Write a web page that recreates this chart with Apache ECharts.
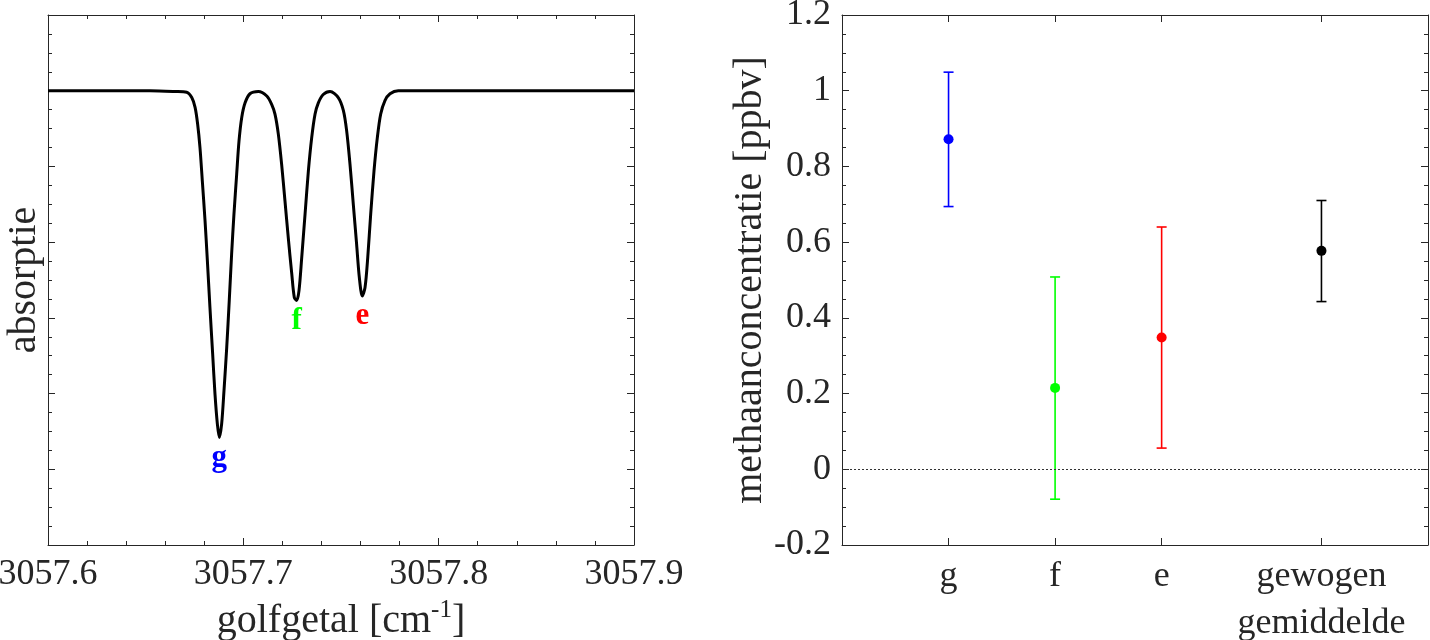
<!DOCTYPE html>
<html>
<head>
<meta charset="utf-8">
<script src="https://cdn.jsdelivr.net/npm/echarts@6.0.0/dist/echarts.min.js"></script>
<style>
  html, body { margin: 0; padding: 0; background: #fff; }
  #chart { width: 1430px; height: 640px; }
</style>
</head>
<body>
<div id="chart"></div>
<script>
var golfgetal = [3057.6, 3057.6522, 3057.665, 3057.671, 3057.6736, 3057.6753, 3057.6766, 3057.6778, 3057.679, 3057.6804,
  3057.6816, 3057.6829, 3057.6843, 3057.6855, 3057.6867, 3057.6877, 3057.6889, 3057.6901, 3057.6915, 3057.6928,
  3057.694, 3057.6952, 3057.6966, 3057.6978, 3057.6992, 3057.7009, 3057.7034, 3057.7077, 3057.712, 3057.7145,
  3057.7162, 3057.7179, 3057.7196, 3057.7213, 3057.723, 3057.7248, 3057.7261, 3057.7273, 3057.7285, 3057.7299,
  3057.7316, 3057.7333, 3057.735, 3057.7367, 3057.7384, 3057.7409, 3057.7444, 3057.7486, 3057.7512, 3057.7529,
  3057.7546, 3057.7563, 3057.758, 3057.7594, 3057.7609, 3057.7623, 3057.7637, 3057.7652, 3057.7669, 3057.7686,
  3057.7703, 3057.7725, 3057.7751, 3057.7793, 3057.7853, 3057.9];
var absorptie = [0, 0, -0.01, -0.02, -0.09, -0.22, -0.44, -0.75, -1.19, -1.72,
  -2.25, -2.86, -3.48, -4.01, -4.40, -4.58, -4.40, -3.96, -3.39, -2.77,
  -2.16, -1.63, -1.10, -0.66, -0.35, -0.16, -0.04, -0.01, -0.07, -0.18,
  -0.31, -0.57, -0.97, -1.45, -1.94, -2.42, -2.73, -2.77, -2.64, -2.20,
  -1.63, -1.06, -0.62, -0.31, -0.16, -0.05, -0.01, -0.09, -0.26, -0.53,
  -0.97, -1.50, -2.03, -2.47, -2.71, -2.60, -2.20, -1.63, -1.06, -0.62,
  -0.31, -0.13, -0.04, 0, 0, 0];

// lijnnamen bij de minima
var lijnNaam = ['g', 'f', 'e'];
var lijnX = [3057.6877, 3057.7273, 3057.7609];
var lijnY = [-4.58, -2.77, -2.71];
var lijnKleur = ['#0000ff', '#00ff00', '#ff0000'];

// rechter paneel: methaanconcentratie met foutmarges
var categorie = ['g', 'f', 'e', 'gewogen\ngemiddelde'];
var categoriePos = [1, 2, 3, 4.5];
var concentratie = [0.872, 0.215, 0.348, 0.577];
var foutOnder = [0.694, -0.079, 0.056, 0.443];
var foutBoven = [1.049, 0.508, 0.640, 0.710];
var puntKleur = ['#0000ff', '#00ff00', '#ff0000', '#000000'];

var font = 'Liberation Serif';
var asKleur = '#262626';

var chart = echarts.init(document.getElementById('chart'));

function randAs(extra) {
  var base = {
    axisLine: { show: true, onZero: false, lineStyle: { color: asKleur, width: 1 } },
    axisTick: { show: true, inside: true, length: 7, lineStyle: { color: asKleur } },
    minorTick: { show: false },
    splitLine: { show: false },
    axisLabel: { show: false }
  };
  return Object.assign(base, extra);
}

var spectrum = [];
for (var i = 0; i < golfgetal.length; i++) spectrum.push([golfgetal[i], absorptie[i]]);

var lijnLabels = lijnNaam.map(function (n, i) {
  return {
    value: [lijnX[i], lijnY[i]],
    label: { formatter: n, color: lijnKleur[i] }
  };
});

var punten = categoriePos.map(function (x, i) { return [x, concentratie[i]]; });
var fouten = categoriePos.map(function (x, i) { return [x, foutOnder[i], foutBoven[i]]; });

var option = {
  animation: false,
  backgroundColor: '#fff',
  textStyle: { fontFamily: font },
  grid: [
    { left: 48, width: 586, top: 15, height: 530, outerBoundsMode: 'none', containLabel: false },
    { left: 842, width: 586, top: 15, height: 530, outerBoundsMode: 'none', containLabel: false }
  ],
  xAxis: [
    randAs({
      gridIndex: 0, type: 'value', position: 'bottom',
      min: 3057.6, max: 3057.9, interval: 0.1,
      minorTick: { show: true, splitNumber: 5, length: 4, lineStyle: { color: asKleur } },
      axisLabel: {
        show: true, color: asKleur, fontSize: 36, fontFamily: font, margin: 12,
        formatter: function (v) { return v.toFixed(1); }
      },
      name: '{n|golfgetal [cm}{s|-1}{n|]}',
      nameLocation: 'middle', nameGap: 52,
      nameTextStyle: {
        rich: {
          n: { fontSize: 40, fontFamily: font, color: asKleur },
          s: { fontSize: 25, fontFamily: font, color: asKleur, verticalAlign: 'top', padding: [0, 0, 22, 0] }
        }
      }
    }),
    randAs({
      gridIndex: 0, type: 'value', position: 'top',
      min: 3057.6, max: 3057.9, interval: 0.1,
      minorTick: { show: true, splitNumber: 5, length: 4, lineStyle: { color: asKleur } }
    }),
    randAs({
      gridIndex: 1, type: 'value', position: 'bottom',
      min: 0, max: 5.5,
      axisTick: { show: true, inside: true, length: 7, customValues: categoriePos, lineStyle: { color: asKleur } },
      axisLabel: {
        show: true, color: asKleur, fontSize: 36, fontFamily: font, margin: 8, lineHeight: 47,
        customValues: categoriePos,
        formatter: function (v) {
          var k = categoriePos.indexOf(v);
          return k >= 0 ? categorie[k] : '';
        }
      }
    }),
    randAs({
      gridIndex: 1, type: 'value', position: 'top',
      min: 0, max: 5.5,
      axisTick: { show: true, inside: true, length: 7, customValues: categoriePos, lineStyle: { color: asKleur } }
    })
  ],
  yAxis: [
    randAs({
      gridIndex: 0, type: 'value', position: 'left',
      min: -6, max: 1, interval: 1,
      minorTick: { show: true, splitNumber: 4, length: 4, lineStyle: { color: asKleur } },
      name: 'absorptie', nameLocation: 'middle', nameGap: 4,
      nameTextStyle: { fontSize: 40, fontFamily: font, color: asKleur }
    }),
    randAs({
      gridIndex: 0, type: 'value', position: 'right',
      min: -6, max: 1, interval: 1,
      minorTick: { show: true, splitNumber: 4, length: 4, lineStyle: { color: asKleur } }
    }),
    randAs({
      gridIndex: 1, type: 'value', position: 'left',
      min: -0.2, max: 1.2, interval: 0.2,
      minorTick: { show: true, splitNumber: 4, length: 4, lineStyle: { color: asKleur } },
      axisLabel: {
        show: true, color: asKleur, fontSize: 36, fontFamily: font, margin: 11,
        formatter: function (v) { return String(Math.round(v * 10) / 10); }
      },
      name: 'methaanconcentratie [ppbv]', nameLocation: 'middle', nameGap: 60,
      nameTextStyle: { fontSize: 40, fontFamily: font, color: asKleur }
    }),
    randAs({
      gridIndex: 1, type: 'value', position: 'right',
      min: -0.2, max: 1.2, interval: 0.2,
      minorTick: { show: true, splitNumber: 4, length: 4, lineStyle: { color: asKleur } }
    })
  ],
  series: [
    {
      type: 'line', xAxisIndex: 0, yAxisIndex: 0,
      data: spectrum, showSymbol: false, smooth: 0.3,
      lineStyle: { color: '#000', width: 3 }
    },
    {
      type: 'scatter', xAxisIndex: 0, yAxisIndex: 0,
      data: lijnLabels, symbolSize: 0,
      itemStyle: { opacity: 1 },
      label: {
        show: true, position: 'bottom', distance: 5, opacity: 1,
        fontSize: 31, fontWeight: 'bold', fontFamily: font
      }
    },
    {
      type: 'custom', xAxisIndex: 2, yAxisIndex: 2,
      data: fouten,
      renderItem: function (params, api) {
        var x = api.value(0);
        var lo = api.coord([x, api.value(1)]);
        var hi = api.coord([x, api.value(2)]);
        var kleur = puntKleur[params.dataIndex];
        var w = 5;
        var st = { stroke: kleur, lineWidth: 1.6 };
        return {
          type: 'group',
          children: [
            { type: 'line', shape: { x1: lo[0], y1: lo[1], x2: hi[0], y2: hi[1] }, style: st },
            { type: 'line', shape: { x1: lo[0] - w, y1: lo[1], x2: lo[0] + w, y2: lo[1] }, style: st },
            { type: 'line', shape: { x1: hi[0] - w, y1: hi[1], x2: hi[0] + w, y2: hi[1] }, style: st }
          ]
        };
      }
    },
    {
      type: 'scatter', xAxisIndex: 2, yAxisIndex: 2,
      data: punten, symbolSize: 10, z: 5,
      itemStyle: { color: function (p) { return puntKleur[p.dataIndex]; }, opacity: 1 },
      markLine: {
        silent: true, symbol: ['none', 'none'],
        label: { show: false },
        lineStyle: { color: '#333', width: 1, type: [2, 2] },
        data: [{ yAxis: 0 }]
      }
    }
  ]
};

chart.setOption(option);
</script>
</body>
</html>
